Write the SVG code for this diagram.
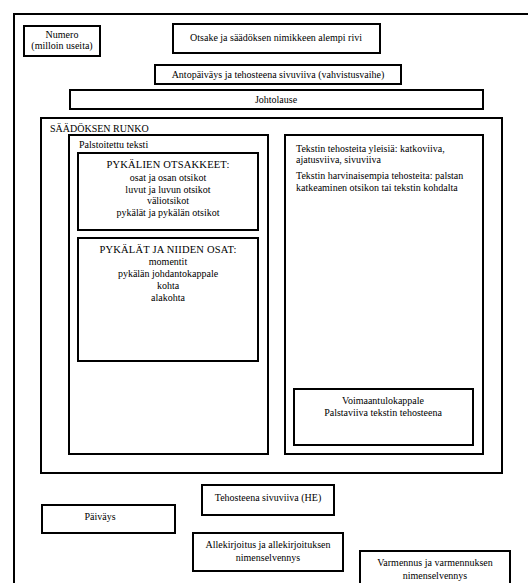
<svg xmlns="http://www.w3.org/2000/svg" width="528" height="583" viewBox="0 0 528 583">
<style>
.b{fill:#fff;stroke:#000;stroke-width:2}
.f{fill:none;stroke:#000;stroke-width:2}
text{font-family:"Liberation Serif","Times New Roman",serif;font-size:10px;fill:#000}
.c{text-anchor:middle}
.h{font-size:10.5px;letter-spacing:0.2px}
</style>
<rect width="528" height="583" fill="#fff"/>
<g id="frame"><rect class="f" x="14" y="14" width="600" height="600"/></g>
<g id="numero"><rect class="b" x="24" y="26" width="76" height="30"/><text class="c" x="62" y="38">Numero</text><text class="c" x="62" y="49">(milloin useita)</text></g>
<g id="otsake"><rect class="b" x="173" y="24" width="207" height="29"/><text class="c" x="276" y="41">Otsake ja säädöksen nimikkeen alempi rivi</text></g>
<g id="antopaivays"><rect class="b" x="155" y="65" width="246" height="19"/><text class="c" x="278" y="78">Antopäiväys ja tehosteena sivuviiva (vahvistusvaihe)</text></g>
<g id="johtolause"><rect class="b" x="70" y="90" width="413" height="19"/><text class="c" x="276" y="103">Johtolause</text></g>
<g id="runko"><rect class="b" x="41" y="118" width="461" height="355"/><text x="50" y="132">SÄÄDÖKSEN RUNKO</text></g>
<g id="palstoitettu"><rect class="b" x="69" y="135" width="199" height="319"/><text x="79" y="148">Palstoitettu teksti</text></g>
<g id="pykalien-otsakkeet"><rect class="b" x="78" y="153" width="180" height="77"/>
<text class="c h" x="168" y="168">PYKÄLIEN OTSAKKEET:</text>
<text class="c" x="168" y="181">osat ja osan otsikot</text>
<text class="c" x="168" y="193">luvut ja luvun otsikot</text>
<text class="c" x="168" y="204">väliotsikot</text>
<text class="c" x="168" y="216">pykälät ja pykälän otsikot</text></g>
<g id="pykalat"><rect class="b" x="78" y="238" width="180" height="123"/>
<text class="c h" x="168" y="253">PYKÄLÄT JA NIIDEN OSAT:</text>
<text class="c" x="168" y="265">momentit</text>
<text class="c" x="168" y="277">pykälän johdantokappale</text>
<text class="c" x="168" y="289">kohta</text>
<text class="c" x="168" y="301">alakohta</text></g>
<g id="tehosteet"><rect class="b" x="285" y="135" width="198" height="319"/>
<text x="296" y="152">Tekstin tehosteita yleisiä: katkoviiva,</text>
<text x="296" y="163">ajatusviiva, sivuviiva</text>
<text x="296" y="179">Tekstin harvinaisempia tehosteita: palstan</text>
<text x="296" y="191">katkeaminen otsikon tai tekstin kohdalta</text></g>
<g id="voimaantulo"><rect class="b" x="294" y="389" width="179" height="56"/>
<text class="c" x="383" y="404">Voimaantulokappale</text>
<text class="c" x="383" y="416">Palstaviiva tekstin tehosteena</text></g>
<g id="he"><rect class="b" x="202" y="485" width="132" height="30"/><text class="c" x="268" y="501">Tehosteena sivuviiva (HE)</text></g>
<g id="paivays"><rect class="b" x="42" y="505" width="133" height="28"/><text class="c" x="100" y="520">Päiväys</text></g>
<g id="allekirjoitus"><rect class="b" x="193" y="533" width="150" height="38"/><text class="c" x="268" y="548">Allekirjoitus ja allekirjoituksen</text><text class="c" x="268" y="561">nimenselvennys</text></g>
<g id="varmennus"><rect class="b" x="360" y="551" width="150" height="50"/><text class="c" x="435" y="566">Varmennus ja varmennuksen</text><text class="c" x="435" y="579">nimenselvennys</text></g>
<g id="connectors"></g>
</svg>
